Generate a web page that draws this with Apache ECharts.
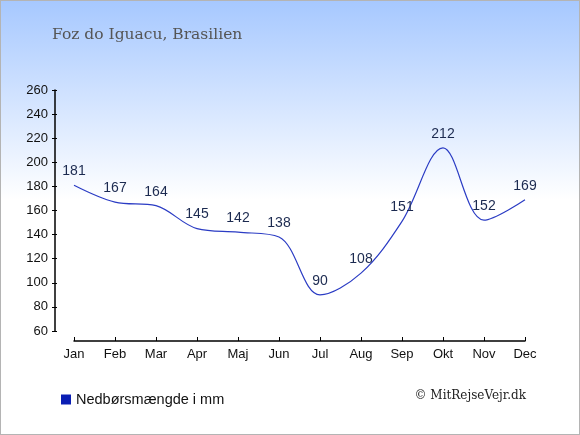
<!DOCTYPE html>
<html lang="da">
<head>
    <meta charset="UTF-8">
    <title>Foz do Iguacu, Brasilien</title>
    <script src="https://cdn.jsdelivr.net/npm/echarts@6/dist/echarts.min.js"></script>
    <style>
        html, body { margin: 0; padding: 0; }
        #wrap { position: relative; width: 580px; height: 435px; }
        #app { width: 580px; height: 435px; }
        #frame {
            position: absolute; left: 0; top: 0; right: 0; bottom: 0;
            border: 1px solid #b4b4b4; pointer-events: none;
        }
    </style>
</head>
<body>
    <div id="wrap">
        <div id="app"></div>
        <div id="frame"></div>
    </div>

    <script>
        // data
        const months = ['Jan', 'Feb', 'Mar', 'Apr', 'Maj', 'Jun', 'Jul', 'Aug', 'Sep', 'Okt', 'Nov', 'Dec'];
        const rain = [181, 167, 164, 145, 142, 138, 90, 108, 151, 212, 152, 169];
        const yMin = 60;
        const yMax = 260;
        const yStep = 20;

        const titleText = 'Foz do Iguacu, Brasilien';
        const seriesName = 'Nedbørsmængde i mm';
        const credit = '© MitRejseVejr.dk';

        var myChart = echarts.init(document.getElementById('app'));

        var option = {
            animation: false,
            backgroundColor: {
                type: 'linear', x: 0, y: 0, x2: 0, y2: 1,
                colorStops: [
                    { offset: 0, color: '#a6c8ff' },
                    { offset: 0.46, color: '#ffffff' },
                    { offset: 1, color: '#ffffff' }
                ]
            },
            title: {
                text: titleText,
                left: 47,
                top: 22,
                textStyle: {
                    fontFamily: 'DejaVu Serif',
                    fontWeight: 'normal',
                    fontSize: 15.5,
                    color: '#555555'
                }
            },
            legend: {
                left: 56,
                top: 387,
                icon: 'rect',
                itemWidth: 10,
                itemHeight: 10,
                itemGap: 6,
                data: [seriesName],
                textStyle: {
                    fontFamily: 'Liberation Sans',
                    fontSize: 14.5,
                    color: '#111111'
                }
            },
            graphic: [
                {
                    type: 'text',
                    right: 54,
                    top: 390,
                    style: {
                        text: credit,
                        font: '12px "DejaVu Serif"',
                        fill: '#222222'
                    }
                }
            ],
            grid: {
                left: 74,
                right: 55,
                top: 90,
                bottom: 104,
                containLabel: false
            },
            xAxis: {
                type: 'category',
                data: months,
                boundaryGap: false,
                offset: 10,
                axisLine: { lineStyle: { color: '#000', width: 1.5 } },
                axisTick: { inside: true, length: 4, alignWithLabel: true, lineStyle: { color: '#000' } },
                axisLabel: {
                    fontFamily: 'Liberation Sans',
                    fontSize: 13,
                    color: '#111',
                    margin: 7
                },
                splitLine: { show: false }
            },
            yAxis: [
                {
                    type: 'value',
                    min: yMin,
                    max: yMax,
                    interval: yStep,
                    offset: 19,
                    axisLine: { show: true, lineStyle: { color: '#000', width: 1.5 } },
                    axisTick: { show: true, length: 3, lineStyle: { color: '#000' } },
                    axisLabel: {
                        fontFamily: 'Liberation Sans',
                        fontSize: 13,
                        color: '#111',
                        margin: 7
                    },
                    splitLine: { show: false }
                },
                {
                    type: 'value',
                    position: 'left',
                    min: yMin,
                    max: yMax,
                    interval: yStep,
                    offset: 19,
                    axisLine: { show: false },
                    axisTick: { show: true, inside: true, length: 2, lineStyle: { color: '#000' } },
                    axisLabel: { show: false },
                    splitLine: { show: false }
                }
            ],
            series: [
                {
                    name: seriesName,
                    type: 'line',
                    data: rain,
                    smooth: 0.35,
                    symbol: 'circle',
                    symbolSize: 0,
                    showSymbol: true,
                    color: '#0a1eb4',
                    lineStyle: { color: '#2b3cc4', width: 1.2 },
                    label: {
                        show: true,
                        position: 'top',
                        distance: 7,
                        fontFamily: 'Liberation Sans',
                        fontSize: 14,
                        color: '#1c2a50'
                    }
                }
            ]
        };

        myChart.setOption(option);
    </script>
</body>
</html>
